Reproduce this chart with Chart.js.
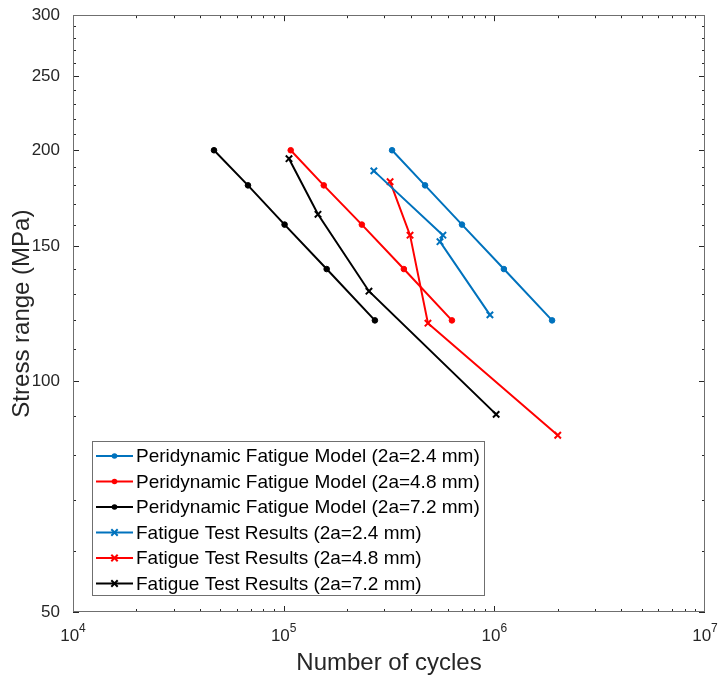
<!DOCTYPE html>
<html>
<head>
<meta charset="utf-8">
<script src="https://cdn.jsdelivr.net/npm/chart.js@4.4.1/dist/chart.umd.min.js"></script>
<style>
  html, body { margin: 0; padding: 0; background: #fff; }
  #wrap { width: 719px; height: 678px; }
</style>
</head>
<body>
<div id="wrap"><canvas id="chartSN" width="719" height="678"></canvas></div>
<script>
// ==========================================
// S-N curves: peridynamic model vs fatigue tests
// ==========================================

// model curves share the same stress levels (MPa)
const modelStress = [200, 180, 160, 140, 120];
const modelCycles24 = [3.27e5, 4.69e5, 7.02e5, 1.11e6, 1.88e6];
const modelCycles48 = [1.08e5, 1.55e5, 2.35e5, 3.72e5, 6.29e5];
const modelCycles72 = [4.67e4, 6.77e4, 1.01e5, 1.60e5, 2.71e5];

// test results
const testCycles24 = [2.68e5, 5.70e5, 5.52e5, 9.53e5];
const testStress24 = [188, 155, 152, 122];
const testCycles48 = [3.20e5, 3.98e5, 4.84e5, 2.00e6];
const testStress48 = [182, 155, 119, 85];
const testCycles72 = [1.06e5, 1.455e5, 2.54e5, 1.02e6];
const testStress72 = [195, 165, 131, 90.5];

const seriesLabels = [
    'Peridynamic Fatigue Model (2a=2.4 mm)',
    'Peridynamic Fatigue Model (2a=4.8 mm)',
    'Peridynamic Fatigue Model (2a=7.2 mm)',
    'Fatigue Test Results (2a=2.4 mm)',
    'Fatigue Test Results (2a=4.8 mm)',
    'Fatigue Test Results (2a=7.2 mm)'
];

// axis ticks
const xTicks = [1e4, 1e5, 1e6, 1e7];
const yTicks = [50, 100, 150, 200, 250, 300];
const yMinorTicks = [60, 70, 80, 90, 110, 120, 130, 140, 160, 170, 180, 190,
                     210, 220, 230, 240, 260, 270, 280, 290];

const BLUE = '#0072BD';
const RED = '#FF0000';
const BLACK = '#000000';
const AXIS = '#262626';
const FONT = "'Liberation Sans', Arial, Helvetica, sans-serif";

function toPoints(xs, ys) {
    return xs.map((x, i) => ({ x: x, y: ys[i] }));
}

function modelSet(label, color, cycles) {
    return {
        label: label,
        data: toPoints(cycles, modelStress),
        showLine: true,
        borderColor: color,
        backgroundColor: color,
        borderWidth: 2,
        pointStyle: 'circle',
        pointRadius: 2.8,
        pointBorderWidth: 1,
        pointBackgroundColor: color,
        pointBorderColor: color
    };
}

function testSet(label, color, cycles, stress) {
    return {
        label: label,
        data: toPoints(cycles, stress),
        showLine: true,
        borderColor: color,
        backgroundColor: color,
        borderWidth: 2,
        pointStyle: 'crossRot',
        pointRadius: 4.5,
        pointBorderWidth: 2,
        pointBorderColor: color
    };
}

const datasets = [
    modelSet(seriesLabels[0], BLUE, modelCycles24),
    modelSet(seriesLabels[1], RED, modelCycles48),
    modelSet(seriesLabels[2], BLACK, modelCycles72),
    testSet(seriesLabels[3], BLUE, testCycles24, testStress24),
    testSet(seriesLabels[4], RED, testCycles48, testStress48),
    testSet(seriesLabels[5], BLACK, testCycles72, testStress72)
];

// box round the plot, inward ticks on all four sides, 10^n labels
const boxAxes = {
    id: 'boxAxes',
    beforeDatasetsDraw(chart) {
        const { ctx, chartArea: a, scales: { x, y } } = chart;
        ctx.save();
        ctx.strokeStyle = AXIS;
        ctx.lineWidth = 1;
        ctx.beginPath();
        const line = (x1, y1, x2, y2) => { ctx.moveTo(x1, y1); ctx.lineTo(x2, y2); };

        yTicks.concat(yMinorTicks).forEach(v => {
            const len = yTicks.includes(v) ? 6 : 3;
            const py = Math.round(y.getPixelForValue(v)) + 0.5;
            line(a.left, py, a.left + len, py);
            line(a.right, py, a.right - len, py);
        });
        for (let k = 4; k < 7; k++) {
            for (let m = 1; m <= 9; m++) {
                const len = m === 1 ? 6 : 3;
                const px = Math.round(x.getPixelForValue(m * Math.pow(10, k))) + 0.5;
                line(px, a.bottom, px, a.bottom - len);
                line(px, a.top, px, a.top + len);
            }
        }
        ctx.stroke();

        ctx.strokeStyle = '#6f6f6f';
        ctx.strokeRect(Math.round(a.left) + 0.5, Math.round(a.top) + 0.5,
                       Math.round(a.width) - 1, Math.round(a.height) - 1);

        // x tick labels with raised exponent
        ctx.fillStyle = AXIS;
        ctx.textAlign = 'left';
        ctx.textBaseline = 'alphabetic';
        xTicks.forEach(v => {
            const exp = String(Math.round(Math.log10(v)));
            ctx.font = '17px ' + FONT;
            const w1 = ctx.measureText('10').width;
            ctx.font = '12px ' + FONT;
            const w2 = ctx.measureText(exp).width;
            const start = x.getPixelForValue(v) - (w1 + w2) / 2;
            ctx.font = '17px ' + FONT;
            ctx.fillText('10', start, a.bottom + 29);
            ctx.font = '12px ' + FONT;
            ctx.fillText(exp, start + w1, a.bottom + 20);
        });
        ctx.restore();
    }
};

// legend drawn inside the plot, lower left
const innerLegend = {
    id: 'innerLegend',
    afterDraw(chart) {
        const { ctx, chartArea: a } = chart;
        const left = a.left + 19;
        const top = a.bottom - 171;
        const rowH = 25.5;
        const lineX1 = left + 4, lineX2 = left + 41, textX = left + 44;

        ctx.save();
        ctx.font = '19px ' + FONT;
        let maxW = 0;
        chart.data.datasets.forEach(ds => { maxW = Math.max(maxW, ctx.measureText(ds.label).width); });
        const w = textX + maxW + 4 - left;
        const h = rowH * 6 + 1;

        ctx.fillStyle = '#fff';
        ctx.fillRect(left, top, w, h);
        ctx.strokeStyle = '#6f6f6f';
        ctx.lineWidth = 1;
        ctx.strokeRect(Math.round(left) + 0.5, Math.round(top) + 0.5, Math.round(w), Math.round(h));

        chart.data.datasets.forEach((ds, i) => {
            const cy = top + 15 + i * rowH;
            const mx = (lineX1 + lineX2) / 2;
            ctx.strokeStyle = ds.borderColor;
            ctx.lineWidth = 2;
            ctx.beginPath();
            ctx.moveTo(lineX1, cy);
            ctx.lineTo(lineX2, cy);
            ctx.stroke();
            if (ds.pointStyle === 'circle') {
                ctx.fillStyle = ds.borderColor;
                ctx.beginPath();
                ctx.arc(mx, cy, 2.8, 0, Math.PI * 2);
                ctx.fill();
            } else {
                const r = 3.2;
                ctx.beginPath();
                ctx.moveTo(mx - r, cy - r); ctx.lineTo(mx + r, cy + r);
                ctx.moveTo(mx - r, cy + r); ctx.lineTo(mx + r, cy - r);
                ctx.stroke();
            }
            ctx.fillStyle = '#000';
            ctx.textAlign = 'left';
            ctx.textBaseline = 'middle';
            ctx.fillText(ds.label, textX, cy + 1);
        });
        ctx.restore();
    }
};

Chart.defaults.font.family = FONT;

new Chart(document.getElementById('chartSN').getContext('2d'), {
    type: 'scatter',
    data: { datasets: datasets },
    options: {
        responsive: false,
        animation: false,
        events: [],
        layout: { padding: { top: 15, right: 14, left: 0, bottom: 0 } },
        plugins: {
            legend: { display: false },
            tooltip: { enabled: false }
        },
        scales: {
            x: {
                type: 'logarithmic',
                min: 1e4,
                max: 1e7,
                grid: { display: false },
                border: { display: false },
                afterBuildTicks: s => { s.ticks = xTicks.map(v => ({ value: v })); },
                afterFit: s => { s.height = 66; },
                ticks: { display: false },
                title: {
                    display: true,
                    text: 'Number of cycles',
                    color: AXIS,
                    font: { size: 24 },
                    padding: { top: 0, bottom: 0 }
                }
            },
            y: {
                type: 'logarithmic',
                min: 50,
                max: 300,
                grid: { display: false },
                border: { display: false },
                afterBuildTicks: s => { s.ticks = yTicks.map(v => ({ value: v })); },
                afterFit: s => { s.width = 73; },
                ticks: {
                    padding: 5,
                    autoSkip: false,
                    color: AXIS,
                    font: { size: 17 },
                    callback: v => String(v)
                },
                title: {
                    display: true,
                    text: 'Stress range (MPa)',
                    color: AXIS,
                    font: { size: 24 },
                    padding: { top: 8, bottom: 0 }
                }
            }
        }
    },
    plugins: [boxAxes, innerLegend]
});
</script>
</body>
</html>
